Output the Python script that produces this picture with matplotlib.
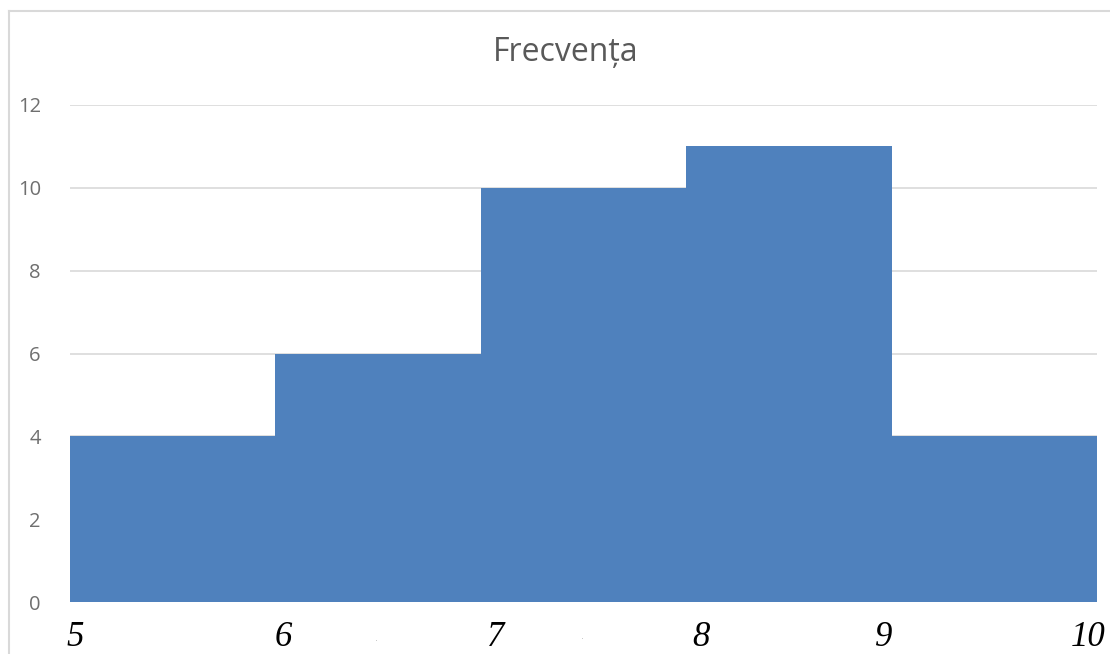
import matplotlib
matplotlib.use("Agg")
import matplotlib.pyplot as plt
import numpy as np

# histogram data: class edges and counts per class
bin_edges = [5, 6, 7, 8, 9, 10]
counts = [4, 6, 10, 11, 4]
y_ticks = [0, 2, 4, 6, 8, 10, 12]
title = "Frecvența"

bar_color = "#4F81BD"
grid_color = "#D9D9D9"
text_gray = "#595959"

fig = plt.figure(figsize=(11.1, 6.54), dpi=100)
ax = fig.add_axes([70 / 1110, 1 - 602 / 654, (1097 - 70) / 1110, (602 - 105) / 654])

# draw the stepped histogram as touching bars
lefts = np.array(bin_edges[:-1])
widths = np.diff(bin_edges)
ax.bar(lefts, counts, width=widths, align="edge", color=bar_color, edgecolor="none", zorder=2)

ax.set_xlim(bin_edges[0], bin_edges[-1])
ax.set_ylim(0, 12)
ax.set_yticks(y_ticks)
ax.set_yticklabels([str(t) for t in y_ticks], fontsize=14.5, color="#6F6F6F", family="Open Sans")
ax.tick_params(axis="y", length=0, pad=21)
ax.yaxis.grid(True, color=grid_color, linewidth=1.2, zorder=0)
ax.set_axisbelow(True)
for s in ax.spines.values():
    s.set_visible(False)

# x labels in italic serif under the class edges (hand-nudged)
ax.set_xticks([])
nudges = [0.025, 0.04, 0.07, 0.07, -0.04, 0.04]
for i, e in enumerate(bin_edges):
    ha = "right" if i == len(bin_edges) - 1 else "center"
    ax.text(e + nudges[i], -0.47, str(e), ha=ha, va="top", fontsize=25, style="italic",
            family="Liberation Serif", color="black")

# two stray specks between the labels
for fx, fy in [(377, 638), (582, 636)]:
    fig.text(fx / 1110, 1 - fy / 654, ".", ha="center", va="center", fontsize=7, color="#BFBFBF")

fig.text(566 / 1110, 1 - 53 / 654, title, ha="center", va="center",
         fontsize=23, color=text_gray, family="Open Sans")

# thin outer frame on the left and top
fig.add_artist(plt.Line2D([9 / 1110, 9 / 1110], [0, 1 - 11 / 654], color=grid_color, lw=1.5,
                          transform=fig.transFigure))
fig.add_artist(plt.Line2D([9 / 1110, 1], [1 - 11 / 654, 1 - 11 / 654], color=grid_color, lw=1.5,
                          transform=fig.transFigure))

fig.savefig("out.png", dpi=100)
